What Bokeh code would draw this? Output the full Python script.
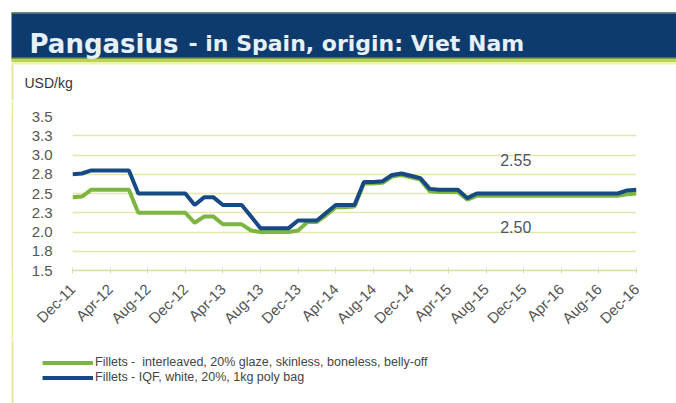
from bokeh.plotting import figure
from bokeh.layouts import column, row
from bokeh.models import (Label, BoxAnnotation, FixedTicker, Legend, LegendItem,
                          ColumnDataSource, Range1d, Spacer)
from bokeh.embed import file_html
from bokeh.resources import INLINE
from math import pi

# ---------------- data ----------------
tick_labels = ["Dec-11", "Apr-12", "Aug-12", "Dec-12", "Apr-13", "Aug-13", "Dec-13",
               "Apr-14", "Aug-14", "Dec-14", "Apr-15", "Aug-15", "Dec-15", "Apr-16",
               "Aug-16", "Dec-16"]
month_index = list(range(61))  # Dec-11 .. Dec-16, monthly

iqf_white = [2.75, 2.76, 2.80, 2.80, 2.80, 2.80, 2.80, 2.50, 2.50, 2.50,
             2.50, 2.50, 2.50, 2.35, 2.45, 2.45, 2.35, 2.35, 2.35, 2.20,
             2.05, 2.05, 2.05, 2.05, 2.15, 2.15, 2.15, 2.25, 2.35, 2.35,
             2.35, 2.65, 2.65, 2.66, 2.74, 2.76, 2.73, 2.70, 2.56, 2.55,
             2.55, 2.55, 2.44, 2.50, 2.50, 2.50, 2.50, 2.50, 2.50, 2.50,
             2.50, 2.50, 2.50, 2.50, 2.50, 2.50, 2.50, 2.50, 2.50, 2.54,
             2.55]
interleaved = [2.45, 2.46, 2.55, 2.55, 2.55, 2.55, 2.55, 2.25, 2.25, 2.25,
               2.25, 2.25, 2.25, 2.12, 2.20, 2.20, 2.10, 2.10, 2.10, 2.02,
               2.00, 2.00, 2.00, 2.00, 2.02, 2.13, 2.13, 2.22, 2.32, 2.32,
               2.33, 2.63, 2.63, 2.64, 2.72, 2.74, 2.71, 2.68, 2.53, 2.52,
               2.52, 2.52, 2.42, 2.47, 2.47, 2.47, 2.47, 2.47, 2.47, 2.47,
               2.47, 2.47, 2.47, 2.47, 2.47, 2.47, 2.47, 2.47, 2.47, 2.49,
               2.50]
y_ticks = [1.5, 1.75, 2.0, 2.25, 2.5, 2.75, 3.0, 3.25, 3.5]
y_tick_labels = ["1.5", "1.8", "2.0", "2.3", "2.5", "2.8", "3.0", "3.3", "3.5"]
series_names = ["Fillets -  interleaved, 20% glaze, skinless, boneless, belly-off",
                "Fillets - IQF, white, 20%, 1kg poly bag"]
end_labels = ["2.55", "2.50"]
title_main = "Pangasius"
title_sub = "- in Spain, origin: Viet Nam"
unit_label = "USD/kg"

NAVY = "#0d3b6e"
FRAME_YELLOW = "#e4e89a"
GREEN = "#7db543"
BLUE = "#174a84"
W = 676


def blank_fig(w, h, fill="white"):
    f = figure(width=w, height=h, output_backend="svg", toolbar_location=None,
               x_range=Range1d(0, w), y_range=Range1d(h, 0),
               x_axis_location=None, y_axis_location=None, min_border=0)
    f.outline_line_color = None
    f.grid.visible = False
    f.background_fill_color = fill
    f.border_fill_color = fill
    return f


def hbox(fig, l, r, t, b, color):
    fig.add_layout(BoxAnnotation(left=l, right=r, top=t, bottom=b,
                                 fill_color=color, fill_alpha=1, line_color=None,
                                 level="underlay"))


# ---------------- header (title bar) ----------------
HH = 100
head = blank_fig(W, HH)
hbox(head, 11, W, 12, 58, NAVY)
hbox(head, 11, W, 12, 13.5, "#4f7a3c")
hbox(head, 11, W, 57, 59, "#7e9f3c")
hbox(head, 11, W, 59, 61.5, "#bcd34c")
hbox(head, 11, W, 61.5, 64, "#eef4a8")
hbox(head, 11, 13, 64, HH, FRAME_YELLOW)
head.add_layout(Label(x=29, y=43, text=title_main, text_font="DejaVu Sans",
                      text_font_style="bold", text_font_size="26px",
                      text_color="#e6f0f8", text_baseline="alphabetic"))
head.add_layout(Label(x=188, y=43, text=title_sub, text_font="DejaVu Sans",
                      text_font_style="bold", text_font_size="22px",
                      text_color="#e6f0f8", text_baseline="alphabetic"))
head.add_layout(Label(x=24, y=82, text=unit_label, text_font="Liberation Sans",
                      text_font_size="14px", text_color="#333333",
                      text_baseline="middle"))

# ---------------- main chart row ----------------
MH = 240
side = blank_fig(2, MH, fill=FRAME_YELLOW)

p = figure(width=W - 13, height=MH, output_backend="svg", toolbar_location=None,
           x_range=Range1d(0, 60), y_range=Range1d(1.5, 3.5),
           min_border_left=59, min_border_right=40, min_border_top=16,
           min_border_bottom=70)
p.outline_line_color = None
p.background_fill_color = "white"
p.border_fill_color = "white"

src = ColumnDataSource(dict(x=month_index, g=interleaved, b=iqf_white))
p.line("x", "g", source=src, line_color=GREEN, line_width=4)
p.line("x", "b", source=src, line_color=BLUE, line_width=4)

xa = p.xaxis[0]
xa.ticker = FixedTicker(ticks=[i * 4 for i in range(len(tick_labels))])
xa.major_label_overrides = {i * 4: lab for i, lab in enumerate(tick_labels)}
xa.major_label_orientation = pi / 4
xa.major_label_text_font = "Liberation Sans"
xa.major_label_text_font_size = "15px"
xa.major_label_text_color = "#555555"
xa.axis_line_color = "#d9dea0"
xa.axis_line_width = 1.5
xa.major_tick_line_color = "#d9dea0"
xa.major_tick_in = 3
xa.major_tick_out = 3
xa.minor_tick_line_color = None
xa.major_label_standoff = 13

ya = p.yaxis[0]
ya.ticker = FixedTicker(ticks=y_ticks)
ya.major_label_overrides = {t: l for t, l in zip(y_ticks, y_tick_labels)}
ya.major_label_text_font = "Liberation Sans"
ya.major_label_text_font_size = "15px"
ya.major_label_text_color = "#555555"
ya.axis_line_color = None
ya.major_tick_line_color = None
ya.minor_tick_line_color = None
ya.major_label_standoff = 14

p.xgrid.grid_line_color = None
p.ygrid.grid_line_color = "#e3e7a8"
p.ygrid.grid_line_width = 1.5

p.add_layout(Label(x=45.5, y=2.93, text=end_labels[0], text_font="Liberation Sans",
                   text_font_size="16px", text_color="#4a5663", text_baseline="middle"))
p.add_layout(Label(x=45.5, y=2.07, text=end_labels[1], text_font="Liberation Sans",
                   text_font_size="16px", text_color="#4a5663", text_baseline="middle"))

# ---------------- legend strip ----------------
LH = 403 - HH - MH
leg = figure(width=W, height=LH, output_backend="svg", toolbar_location=None,
             x_range=Range1d(0, 1), y_range=Range1d(0, 1),
             x_axis_location=None, y_axis_location=None, min_border=0)
leg.outline_line_color = None
leg.grid.visible = False
leg.background_fill_color = "white"
leg.border_fill_color = "white"
leg.add_layout(BoxAnnotation(left=11, right=13, left_units="screen", right_units="screen",
                             fill_color=FRAME_YELLOW, fill_alpha=1, line_color=None))
nan = float("nan")
lg = leg.line([nan], [nan], line_color=GREEN, line_width=4)
lb = leg.line([nan], [nan], line_color=BLUE, line_width=4)
legend = Legend(items=[LegendItem(label=series_names[0], renderers=[lg], index=0),
                       LegendItem(label=series_names[1], renderers=[lb], index=0)],
                location=(42, LH - 14.5 - 30), orientation="vertical")
legend.border_line_color = None
legend.background_fill_alpha = 0
legend.padding = 0
legend.margin = 0
legend.spacing = 0
legend.glyph_width = 51
legend.glyph_height = 15
legend.label_height = 15
legend.label_standoff = 2
legend.label_text_font = "Liberation Sans"
legend.label_text_font_size = "12.5px"
legend.label_text_color = "#444444"
leg.add_layout(legend)

layout = column(head, row(Spacer(width=11, height=MH), side, p), leg)
open("out.html", "w").write(file_html(layout, INLINE))
